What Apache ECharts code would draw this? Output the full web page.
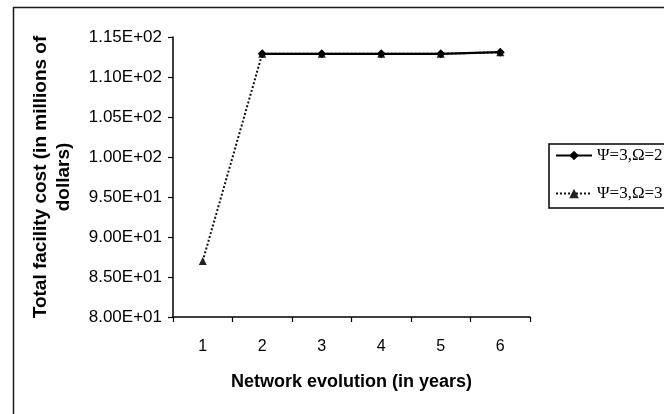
<!DOCTYPE html>
<html>
<head>
<meta charset="utf-8">
<script src="https://cdn.jsdelivr.net/npm/echarts@6/dist/echarts.min.js"></script>
<style>
html,body{margin:0;padding:0;background:#fff;}
#chart{width:664px;height:414px;}
</style>
</head>
<body>
<div id="chart"></div>
<script>
var years = ['1', '2', '3', '4', '5', '6'];
var seriesNames = ['\u03A8=3,\u03A9=2', '\u03A8=3,\u03A9=3'];
var psi3omega2 = [null, 112.9, 112.9, 112.9, 112.9, 113.1];
var psi3omega3 = [87.0, 112.9, 112.9, 112.9, 112.9, 113.1];
var yTickLabels = {80: '8.00E+01', 85: '8.50E+01', 90: '9.00E+01', 95: '9.50E+01', 100: '1.00E+02', 105: '1.05E+02', 110: '1.10E+02', 115: '1.15E+02'};

var chart = echarts.init(document.getElementById('chart'));
chart.setOption({
  animation: false,
  backgroundColor: '#fff',
  graphic: [{
    type: 'rect', left: 11, top: 5,
    shape: {width: 720, height: 408},
    style: {fill: 'none', stroke: '#1a1a1a', lineWidth: 1.5},
    z: -1
  }],
  grid: {left: 173, right: 134, top: 37, bottom: 97},
  legend: {
    orient: 'vertical',
    left: 549, top: 144,
    padding: [3, 30, 6, 6],
    itemGap: 21,
    itemWidth: 36, itemHeight: 12,
    borderColor: '#000', borderWidth: 1.5,
    textStyle: {fontFamily: 'Liberation Serif, DejaVu Serif, serif', fontSize: 17, color: '#000'},
    data: seriesNames
  },
  xAxis: {
    type: 'category',
    data: years,
    boundaryGap: true,
    name: 'Network evolution (in years)',
    nameLocation: 'middle',
    nameGap: 56,
    nameTextStyle: {fontFamily: 'Liberation Sans, Arial, sans-serif', fontWeight: 'bold', fontSize: 18, color: '#000'},
    axisLine: {lineStyle: {color: '#000', width: 1.5}},
    axisTick: {show: true, length: 5, inside: false, lineStyle: {color: '#000', width: 1.2}},
    axisLabel: {margin: 22, fontFamily: 'Liberation Sans, Arial, sans-serif', fontSize: 16, color: '#000'},
    splitLine: {show: false}
  },
  yAxis: {
    type: 'value',
    min: 80, max: 115, interval: 5,
    name: 'Total facility cost (in millions of\ndollars)',
    nameLocation: 'middle',
    nameGap: 98,
    nameRotate: 90,
    nameTextStyle: {fontFamily: 'Liberation Sans, Arial, sans-serif', fontWeight: 'bold', fontSize: 19, lineHeight: 23, color: '#000', align: 'center'},
    axisLine: {show: true, lineStyle: {color: '#000', width: 1.5}},
    axisTick: {show: true, length: 5, inside: false, lineStyle: {color: '#000', width: 1.2}},
    axisLabel: {margin: 11, fontFamily: 'Liberation Sans, Arial, sans-serif', fontSize: 17, color: '#000',
      formatter: function (v) { return yTickLabels[v] || ''; }},
    splitLine: {show: false}
  },
  series: [{
    name: seriesNames[0],
    type: 'line',
    data: psi3omega2,
    symbol: 'diamond', symbolSize: 9,
    lineStyle: {color: '#000', width: 2.2, type: 'solid'},
    itemStyle: {color: '#000'},
    connectNulls: false,
    z: 3
  }, {
    name: seriesNames[1],
    type: 'line',
    data: psi3omega3,
    symbol: 'triangle', symbolSize: 8,
    lineStyle: {color: '#111', width: 2, type: [2, 2]},
    itemStyle: {color: '#222'},
    z: 2
  }]
});
</script>
</body>
</html>
